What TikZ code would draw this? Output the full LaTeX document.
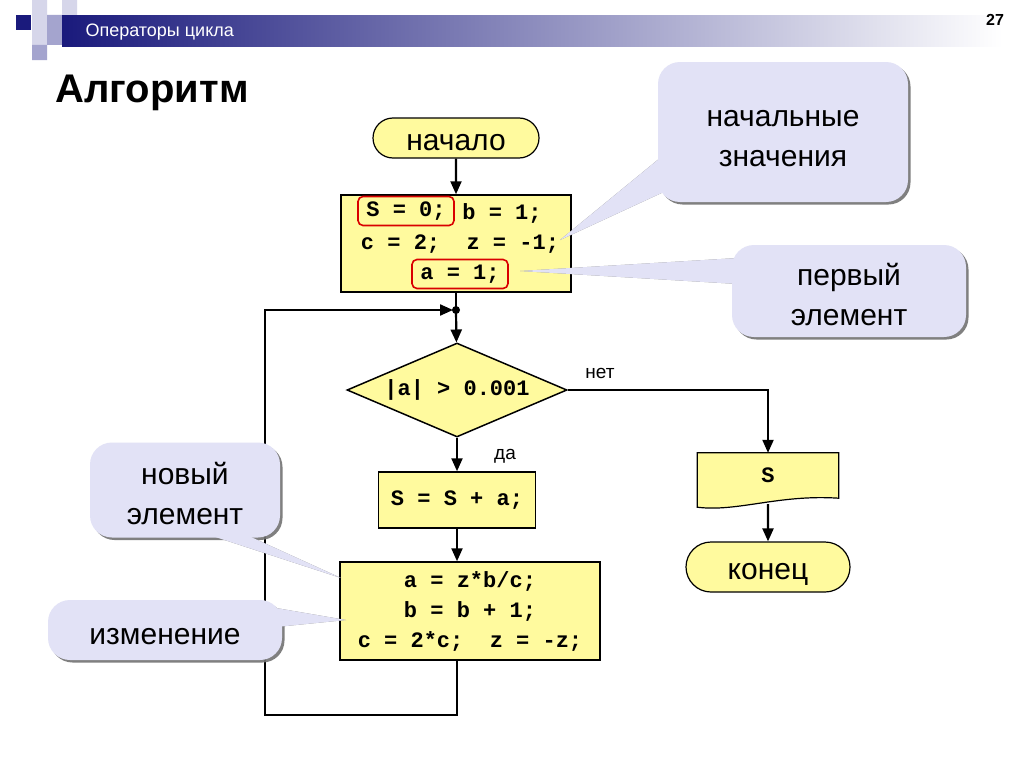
\documentclass[tikz,border=0pt]{standalone}
\usepackage{fontspec}
\setmainfont{Liberation Sans}
\setmonofont{Liberation Mono}
\usetikzlibrary{shapes.geometric,shapes.misc,arrows.meta,shadows,backgrounds}
\definecolor{blockfill}{HTML}{FFFA9E}
\definecolor{notefill}{HTML}{E2E2F6}
\definecolor{hdark}{HTML}{1A1A7C}
\definecolor{hmid}{HTML}{8C8CC6}
\definecolor{sqlight}{HTML}{D6D6EA}
\definecolor{sqmid}{HTML}{A4A4CE}
\newcommand{\notetext}[1]{\raisebox{-6pt}[\height][\depth]{\begin{tabular}{@{}c@{}}#1\end{tabular}}}
\tikzset{
  textbig/.style={font=\fontsize{30}{40}\selectfont},
  codetext/.style={font=\fontsize{22}{30}\selectfont\ttfamily\bfseries},
  term/.style={rounded rectangle, draw, line width=1.2pt, fill=blockfill, textbig, inner sep=0pt,
    text height=24pt, text depth=0pt},
  block/.style={rectangle, draw, line width=1.5pt, fill=blockfill, inner sep=0pt},
  decision/.style={diamond, draw, line width=1.5pt, fill=blockfill, aspect=2.34, inner sep=0pt,
    minimum width=220pt, minimum height=94pt, codetext},
  redframe/.style={draw=red!85!black, line width=1.6pt, rounded corners=5pt, inner sep=0pt,
    minimum width=96pt, minimum height=29pt},
  flowline/.style={line width=2.2pt},
  flow/.style={flowline, -{Triangle[length=13pt,width=11pt]}},
  answer/.style={font=\fontsize{19}{22}\selectfont},
  callout/.style={rounded corners=22pt, fill=notefill, textbig, inner sep=0pt,
    drop shadow={shadow xshift=2.5pt, shadow yshift=-2.5pt, fill=black!55, opacity=0.9}},
  tailfill/.style={fill=notefill},
  tailshadow/.style={fill=black!55, opacity=0.9, shift={(2.5pt,-2.5pt)}}
}
\begin{document}
\begin{tikzpicture}[x=1pt,y=-1pt]
  \useasboundingbox (0,0) rectangle (1024,768);
  \begin{scope}[on background layer]
    \fill[white] (0,0) rectangle (1024,768);
  \end{scope}

  \fill[sqlight] (32,0) rectangle (47,15) (62,0) rectangle (77,15)
    (32,15) rectangle (47,30) (32,30) rectangle (47,45);
  \fill[sqmid] (47,15) rectangle (62,30) (47,30) rectangle (62,45) (32,45) rectangle (47,60);
  \fill[hdark] (16,15) rectangle (31,30);
  \shade[left color=hdark, middle color=hmid, right color=white] (62,16) rectangle (1002,47);
  \node[white, font=\fontsize{18}{20}\selectfont, anchor=west] (head) at (82,32) {Операторы цикла};
  \node[font=\fontsize{16}{18}\bfseries\selectfont] (page) at (995,20) {27};
  \node[font=\fontsize{40}{44}\bfseries\selectfont, anchor=west] (title) at (52,93) {Алгоритм};

  \node[term, minimum width=166pt, minimum height=40pt] (start) at (456,138) {начало};
  \node[block, minimum width=230pt, minimum height=97pt] (init) at (456,243.5) {};
  \node[codetext, redframe] (s0) at (406,211) {S = 0;};
  \node[codetext] (b1) at (502,213) {b = 1;};
  \node[codetext] (cz) at (460,244) {c = 2;\ \ z = -1;};
  \node[codetext, redframe] (a1) at (460,274) {a = 1;};
  \coordinate (j) at (456,310);
  \node[decision] (cond) at (457,390) {|a| > 0.001};
  \node[block, codetext, minimum width=157pt, minimum height=56pt] (step1) at (457,500) {S = S + a;};
  \node[block, codetext, align=center, minimum width=260pt, minimum height=98pt] (step2) at (470,611)
    {a = z*b/c;\\b = b + 1;\\c = 2*c;\ \ z = -z;};
  \node[codetext, minimum width=141pt, minimum height=45pt, inner sep=0pt] (out) at (768,475.5) {S};
  \begin{scope}[on background layer]
    \draw[line width=1.2pt, fill=blockfill] (out.south east) -- (out.north east) -- (out.north west)
      -- ([yshift=-9pt]out.south west)
      .. controls ([xshift=40pt,yshift=-14pt]out.south west) and ([xshift=-60pt,yshift=4pt]out.south east)
      .. (out.south east) -- cycle;
  \end{scope}
  \node[term, minimum width=164pt, minimum height=50pt] (end) at (768,567) {конец};
  \node[answer] (no) at (600,373) {нет};
  \node[answer] (yes) at (505,456) {да};
  \coordinate (loopl) at (265,715);

  \draw[flow] (start) -- (init);
  \draw[flowline] (init) -- (j);
  \draw[flow] (j) -- (cond);
  \fill (j) circle (4pt);
  \draw[flow] (cond) -- (step1);
  \draw[flow] (step1.south) -- (step1.south |- step2.north);
  \draw[flow] (step2.south -| step1.south) |- (loopl) |- ([xshift=-3pt]j);
  \draw[flow] (cond.east) -| (out.north);
  \draw[flow] ([yshift=-6pt]out.south) -- (end);

  \coordinate (c1a) at (660,158);
  \coordinate (c1b) at (668,190);
  \coordinate (c1tip) at (560,240);
  \coordinate (c2a) at (738,258);
  \coordinate (c2b) at (738,284);
  \coordinate (c2tip) at (520,271);
  \coordinate (c3a) at (200,532);
  \coordinate (c3b) at (240,532);
  \coordinate (c3tip) at (341,578);
  \coordinate (c4a) at (276,608);
  \coordinate (c4b) at (276,627);
  \coordinate (c4tip) at (346,620);

  \fill[tailshadow] (c1a) -- (c1tip) -- (c1b) -- cycle;
  \node[callout, minimum width=250pt, minimum height=140pt] (c1) at (783,132) {\notetext{начальные\\значения}};
  \fill[tailfill] (c1a) -- (c1tip) -- (c1b) -- cycle;
  \fill[tailshadow] (c2a) -- (c2tip) -- (c2b) -- cycle;
  \node[callout, minimum width=234pt, minimum height=92pt] (c2) at (849,291) {\notetext{первый\\элемент}};
  \fill[tailfill] (c2a) -- (c2tip) -- (c2b) -- cycle;
  \fill[tailshadow] (c3a) -- (c3tip) -- (c3b) -- cycle;
  \node[callout, minimum width=190pt, minimum height=95pt] (c3) at (185,490) {\notetext{новый\\элемент}};
  \fill[tailfill] (c3a) -- (c3tip) -- (c3b) -- cycle;
  \fill[tailshadow] (c4a) -- (c4tip) -- (c4b) -- cycle;
  \node[callout, minimum width=234pt, minimum height=60pt] (c4) at (165,630) {\notetext{изменение}};
  \fill[tailfill] (c4a) -- (c4tip) -- (c4b) -- cycle;
\end{tikzpicture}
\end{document}
